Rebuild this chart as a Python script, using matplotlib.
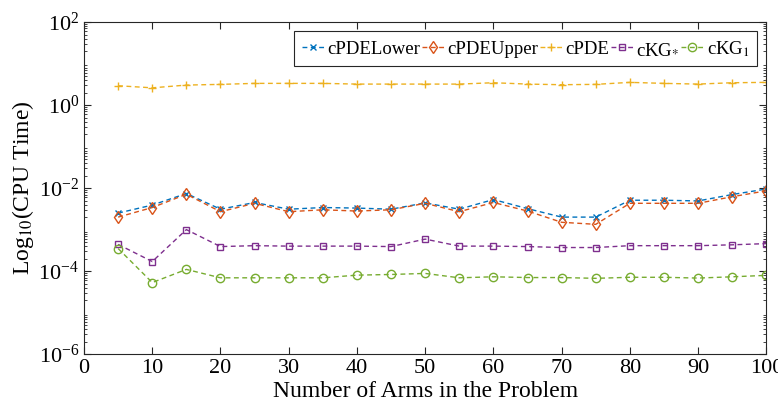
import matplotlib
matplotlib.use("Agg")
import matplotlib.pyplot as plt
from matplotlib.ticker import LogLocator, NullFormatter

plt.rcParams['font.family'] = ['Liberation Serif', 'DejaVu Serif']
plt.rcParams['mathtext.fontset'] = 'stix'
plt.rcParams['lines.dashed_pattern'] = (3.5, 2.5)

arms = [5, 10, 15, 20, 25, 30, 35, 40, 45, 50, 55, 60, 65, 70, 75, 80, 85, 90, 95, 100]

cpde_lower = [0.0025, 0.0039, 0.0074, 0.0031, 0.0045, 0.0031, 0.0034, 0.0033, 0.0031, 0.0044,
              0.0031, 0.0053, 0.0032, 0.0020, 0.0020, 0.0051, 0.0051, 0.0049, 0.0070, 0.0095]
cpde_upper = [0.0020, 0.0034, 0.0071, 0.0027, 0.0043, 0.0027, 0.0030, 0.0028, 0.0030, 0.0043,
              0.0027, 0.0045, 0.0028, 0.0015, 0.00134, 0.0043, 0.0043, 0.0043, 0.0062, 0.0086]
cpde = [2.92, 2.6, 3.03, 3.15, 3.33, 3.33, 3.33, 3.2, 3.2, 3.2,
        3.2, 3.45, 3.2, 3.09, 3.15, 3.52, 3.33, 3.2, 3.45, 3.52]
ckg_star = [4.4e-4, 1.7e-4, 1.0e-3, 3.9e-4, 4.1e-4, 4.0e-4, 4.0e-4, 4.0e-4, 3.9e-4, 5.9e-4,
            4.0e-4, 4.0e-4, 3.9e-4, 3.7e-4, 3.7e-4, 4.1e-4, 4.1e-4, 4.1e-4, 4.3e-4, 4.6e-4]
ckg_1 = [3.5e-4, 5.3e-5, 1.1e-4, 6.9e-5, 6.9e-5, 6.9e-5, 6.9e-5, 8.0e-5, 8.3e-5, 8.8e-5,
         6.9e-5, 7.3e-5, 7.0e-5, 7.0e-5, 6.7e-5, 7.1e-5, 7.1e-5, 6.8e-5, 7.3e-5, 7.9e-5]

fig = plt.figure(figsize=(7.78, 4.08), dpi=100)
ax = fig.add_axes([0.108, 0.132, 0.877, 0.814])

ax.plot(arms, cpde_lower, '--x', color='#0072BD', lw=1, ms=4.5, label='cPDELower')
ax.plot(arms, cpde_upper, '--d', color='#D95319', lw=1, ms=6, mfc='none', label='cPDEUpper')
ax.plot(arms, cpde, '--+', color='#EDB120', lw=1, ms=6, label='cPDE')
ax.plot(arms, ckg_star, '--s', color='#7E2F8E', lw=1, ms=5, mfc='none', label='cKG$_{*}$')
ax.plot(arms, ckg_1, '--o', color='#77AC30', lw=1, ms=6, mfc='none', label='cKG$_{1}$')

ax.set_yscale('log')
ax.set_xlim(0, 100)
ax.set_ylim(1e-6, 1e2)
ax.set_xticks(range(0, 101, 10))
ax.set_yticks([1e-6, 1e-4, 1e-2, 1e0, 1e2])
ax.yaxis.set_minor_locator(LogLocator(base=10, subs=range(2, 10), numticks=20))
ax.yaxis.set_minor_formatter(NullFormatter())

ax.tick_params(which='both', direction='in', top=True, right=True, labelsize=16, color='#262626')
ax.tick_params(which='major', length=5)
ax.tick_params(which='minor', length=2.5)
for s in ax.spines.values():
    s.set_color('#262626')
    s.set_linewidth(0.8)

ax.set_xlabel('Number of Arms in the Problem', fontsize=17, labelpad=2)
ax.set_ylabel('Log$_{10}$(CPU Time)', fontsize=17, labelpad=2)

leg = ax.legend(loc='upper right', ncol=5, fontsize=13.5, handlelength=1.2, handletextpad=0.15,
                columnspacing=0.1, borderpad=0.4, borderaxespad=0.5, fancybox=False,
                framealpha=1, edgecolor='#262626')
leg.get_frame().set_linewidth(0.8)

plt.savefig('out.png', dpi=100)
